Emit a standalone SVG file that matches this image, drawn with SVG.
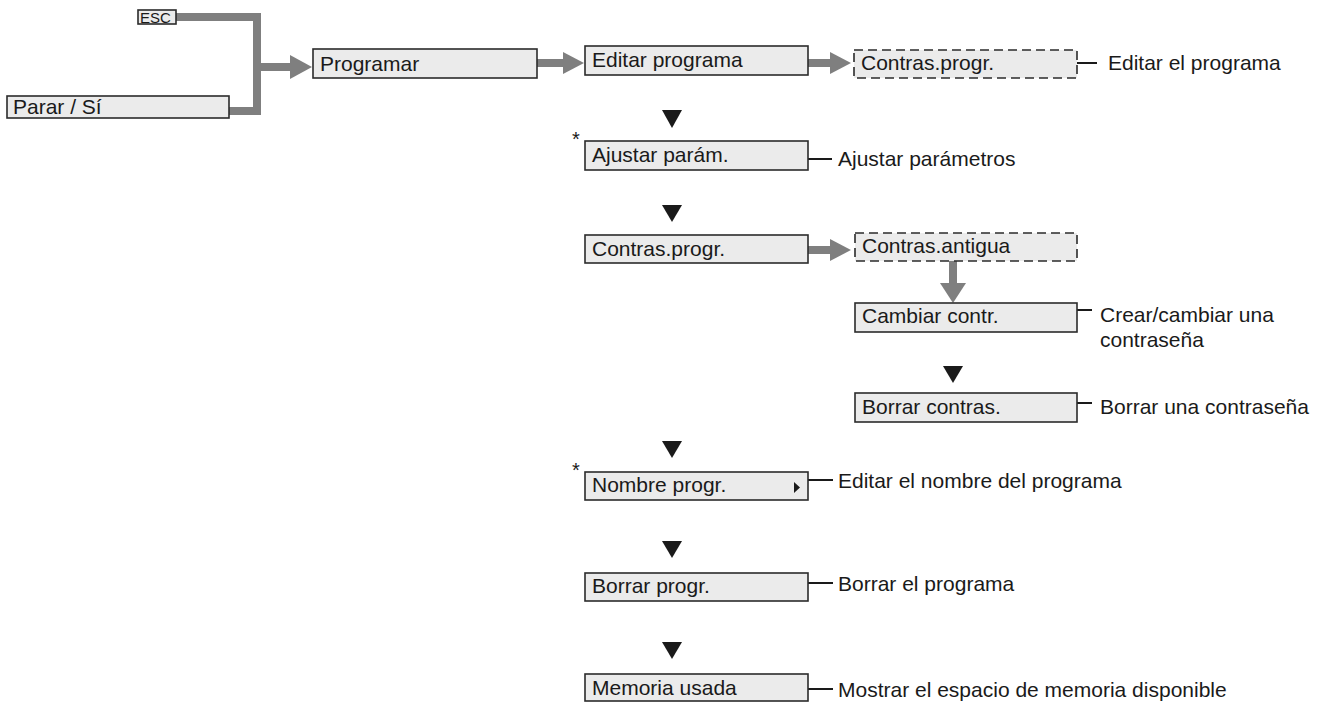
<svg xmlns="http://www.w3.org/2000/svg" width="1328" height="702" viewBox="0 0 1328 702">
<style>
.box{fill:#ebebeb;stroke:#2b2b2b;stroke-width:1.6}
.dash{fill:#ebebeb;stroke:#2b2b2b;stroke-width:1.6;stroke-dasharray:9 5}
.t{font-family:"Liberation Sans",Arial,sans-serif;font-size:21px;fill:#1a1a1a}
.g{fill:none;stroke:#7f7f7f;stroke-width:8}
.gh{fill:#7f7f7f}
.k{fill:none;stroke:#1a1a1a;stroke-width:2}
.tri{fill:#1a1a1a}
</style>
<rect width="1328" height="702" fill="#ffffff"/>
<g id="connectors">
<path class="g" d="M176,17 H257 V111 H229"/>
<path class="g" d="M257,67 H292"/>
<polygon class="gh" points="290,55 312,67 290,79"/>
<path class="g" d="M537,63 H565"/>
<polygon class="gh" points="563,52 584,63 563,74"/>
<path class="g" d="M808,63 H832"/>
<polygon class="gh" points="830,52 851,63 830,74"/>
<path class="g" d="M808,250 H832"/>
<polygon class="gh" points="830,239 851,250 830,261"/>
<path class="g" d="M953,261 V286"/>
<polygon class="gh" points="940,283 966,283 953,303"/>
<polygon class="tri" points="662,110 682,110 672,128"/>
<polygon class="tri" points="662,205 682,205 672,222"/>
<polygon class="tri" points="943,366 963,366 953,383"/>
<polygon class="tri" points="662,441 682,441 672,458"/>
<polygon class="tri" points="662,541 682,541 672,558"/>
<polygon class="tri" points="662,642 682,642 672,659"/>
<path class="k" d="M1077,63 H1097"/>
<path class="k" d="M808,159 H832"/>
<path class="k" d="M1077,310 H1092"/>
<path class="k" d="M1077,403 H1092"/>
<path class="k" d="M808,480 H833"/>
<path class="k" d="M808,583 H833"/>
<path class="k" d="M808,689 H833"/>
</g>
<g id="esc"><rect x="138" y="10" width="38" height="14" class="box"/><text x="140" y="22.5" class="t" style="font-size:15px">ESC</text></g>
<g id="parar"><rect x="7" y="96" width="222" height="22" class="box"/><text x="13" y="114" class="t">Parar / Sí</text></g>
<g id="programar"><rect x="313" y="49" width="224" height="29" class="box"/><text x="320" y="71" class="t">Programar</text></g>
<g id="editar"><rect x="585" y="46" width="223" height="29" class="box"/><text x="592" y="67" class="t">Editar programa</text></g>
<g id="contras1"><rect x="854" y="50" width="223" height="28" class="dash"/><text x="861" y="70" class="t">Contras.progr.</text><text x="1108" y="70" class="t">Editar el programa</text></g>
<g id="ajustar"><text x="572" y="146" class="t" style="font-size:20px">*</text><rect x="585" y="141" width="223" height="29" class="box"/><text x="592" y="162" class="t">Ajustar parám.</text><text x="838" y="166" class="t">Ajustar parámetros</text></g>
<g id="contras2"><rect x="585" y="235" width="223" height="28" class="box"/><text x="592" y="256" class="t">Contras.progr.</text></g>
<g id="antigua"><rect x="855" y="233" width="222" height="28" class="dash"/><text x="862" y="253" class="t">Contras.antigua</text></g>
<g id="cambiar"><rect x="855" y="303" width="222" height="29" class="box"/><text x="862" y="323" class="t">Cambiar contr.</text><text x="1100" y="322" class="t">Crear/cambiar una</text><text x="1100" y="347" class="t">contraseña</text></g>
<g id="borrarc"><rect x="855" y="393" width="222" height="29" class="box"/><text x="862" y="414" class="t">Borrar contras.</text><text x="1100" y="414" class="t">Borrar una contraseña</text></g>
<g id="nombre"><text x="572" y="477" class="t" style="font-size:20px">*</text><rect x="585" y="472" width="223" height="28" class="box"/><text x="592" y="492" class="t">Nombre progr.</text><polygon class="tri" points="794,482 800,487.5 794,493"/><text x="838" y="488" class="t">Editar el nombre del programa</text></g>
<g id="borrarp"><rect x="585" y="573" width="223" height="28" class="box"/><text x="592" y="593" class="t">Borrar progr.</text><text x="838" y="591" class="t">Borrar el programa</text></g>
<g id="memoria"><rect x="585" y="674" width="223" height="27" class="box"/><text x="592" y="695" class="t">Memoria usada</text><text x="838" y="697" class="t">Mostrar el espacio de memoria disponible</text></g>
</svg>
